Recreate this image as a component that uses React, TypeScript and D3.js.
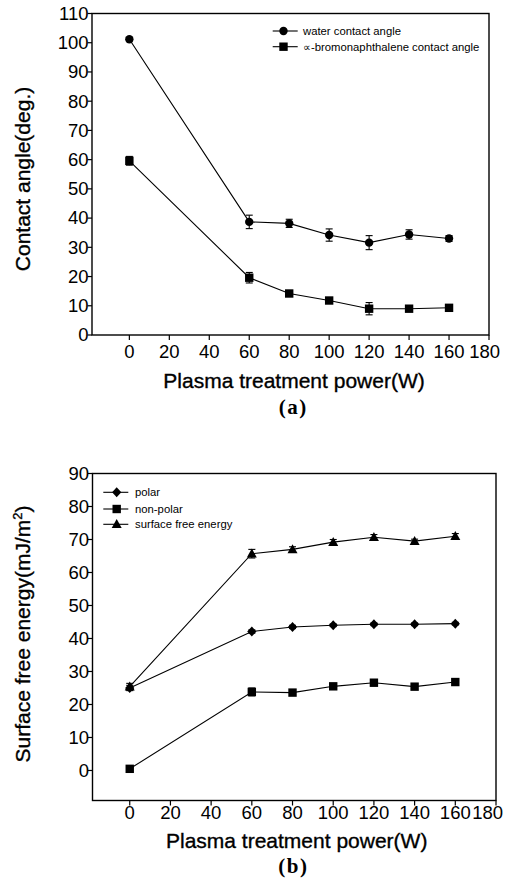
import React from "react";
import * as d3 from "d3";

// Plasma treatment power (W)
const powers = [0, 60, 80, 100, 120, 140, 160];

// Panel (a): contact angles (deg.) with error bars
const waterAngle = [101.2, 38.7, 38.2, 34.2, 31.6, 34.4, 33.0];
const waterErr = [0.6, 2.3, 1.4, 2.1, 2.4, 1.6, 1.0];
const bromoAngle = [59.6, 19.6, 14.2, 11.8, 9.0, 9.0, 9.3];
const bromoErr = [1.5, 1.8, 0.8, 1.0, 2.1, 0.8, 0.8];

// Panel (b): surface free energy components (mJ/m²)
const polarEnergy = [25.0, 42.1, 43.5, 44.0, 44.3, 44.3, 44.5];
const polarErr = [0.8, 0.5, 0.5, 0.4, 0.4, 0.4, 0.4];
const nonPolarEnergy = [0.5, 23.8, 23.6, 25.5, 26.6, 25.4, 26.8];
const nonPolarErr = [0.5, 1.2, 0.8, 0.8, 0.9, 0.8, 0.9];
const totalEnergy = [25.4, 65.7, 67.0, 69.2, 70.7, 69.5, 71.0];
const totalErr = [1.0, 1.3, 0.8, 0.8, 0.8, 0.6, 0.8];

const xTicks = [0, 20, 40, 60, 80, 100, 120, 140, 160, 180];
const yTicksA = [0, 10, 20, 30, 40, 50, 60, 70, 80, 90, 100, 110];
const yTicksB = [0, 10, 20, 30, 40, 50, 60, 70, 80, 90];

const legendA = ["water contact angle", "\u221D-bromonaphthalene contact angle"];
const legendB = ["polar", "non-polar", "surface free energy"];

const SANS = "'Liberation Sans', Arial, Helvetica, sans-serif";
const SERIF = "'Liberation Serif', 'Times New Roman', serif";
const W = 507;
const H = 892;

type Shape = "circle" | "square" | "diamond" | "triangle";

function Marker({ shape, x, y }: { shape: Shape; x: number; y: number }) {
  if (shape === "circle") return <circle cx={x} cy={y} r={4.2} fill="#000" />;
  if (shape === "square")
    return <rect x={x - 4.2} y={y - 4.2} width={8.4} height={8.4} fill="#000" />;
  if (shape === "diamond")
    return (
      <path
        d={`M${x},${y - 5}L${x + 4.6},${y}L${x},${y + 5}L${x - 4.6},${y}Z`}
        fill="#000"
      />
    );
  return (
    <path d={`M${x},${y - 5.2}L${x + 5},${y + 3.8}L${x - 5},${y + 3.8}Z`} fill="#000" />
  );
}

interface Series {
  values: number[];
  errors: number[];
  shape: Shape;
}

interface PanelProps {
  left: number;
  right: number;
  top: number;
  bottom: number;
  xDomain: [number, number];
  yDomain: [number, number];
  yTicks: number[];
  series: Series[];
  tickBaseline: number;
  lastLabelEnd: number;
}

function Panel(p: PanelProps) {
  const x = d3.scaleLinear().domain(p.xDomain).range([p.left, p.right]);
  const y = d3.scaleLinear().domain(p.yDomain).range([p.bottom, p.top]);
  const line = d3
    .line<number>()
    .x((_, i) => x(powers[i]))
    .y((v) => y(v));

  return (
    <g>
      {/* frame */}
      <rect
        x={p.left}
        y={p.top}
        width={p.right - p.left}
        height={p.bottom - p.top}
        fill="none"
        stroke="#000"
        strokeWidth={1.4}
      />
      {/* y axis ticks and labels */}
      {p.yTicks.map((t) => (
        <g key={`y${t}`}>
          <line x1={p.left - 4.5} x2={p.left} y1={y(t)} y2={y(t)} stroke="#000" strokeWidth={1.2} />
          <text
            x={p.left - 3.5}
            y={y(t) + 6.4}
            textAnchor="end"
            fontFamily={SANS}
            fontSize={18.5}
            fill="#000"
          >
            {t}
          </text>
        </g>
      ))}
      {/* x axis ticks and labels */}
      {xTicks.map((t, i) => {
        const last = i === xTicks.length - 1;
        return (
          <g key={`x${t}`}>
            <line x1={x(t)} x2={x(t)} y1={p.bottom} y2={p.bottom + 5} stroke="#000" strokeWidth={1.2} />
            <text
              x={last ? p.lastLabelEnd : x(t)}
              y={p.tickBaseline}
              textAnchor={last ? "end" : "middle"}
              fontFamily={SANS}
              fontSize={18.5}
              fill="#000"
            >
              {t}
            </text>
          </g>
        );
      })}
      {/* series */}
      {p.series.map((s, si) => (
        <g key={`s${si}`}>
          <path d={line(s.values) || ""} fill="none" stroke="#000" strokeWidth={1.1} />
          {s.values.map((v, i) => {
            const cx = x(powers[i]);
            const e = s.errors[i];
            return (
              <g key={i}>
                <line x1={cx} x2={cx} y1={y(v - e)} y2={y(v + e)} stroke="#000" strokeWidth={1.1} />
                <line x1={cx - 3.5} x2={cx + 3.5} y1={y(v - e)} y2={y(v - e)} stroke="#000" strokeWidth={1.1} />
                <line x1={cx - 3.5} x2={cx + 3.5} y1={y(v + e)} y2={y(v + e)} stroke="#000" strokeWidth={1.1} />
                <Marker shape={s.shape} x={cx} y={y(v)} />
              </g>
            );
          })}
        </g>
      ))}
    </g>
  );
}

function LegendRow({
  shape,
  label,
  x0,
  x1,
  mx,
  tx,
  y,
}: {
  shape: Shape;
  label: string;
  x0: number;
  x1: number;
  mx: number;
  tx: number;
  y: number;
}) {
  return (
    <g>
      <line x1={x0} x2={x1} y1={y} y2={y} stroke="#000" strokeWidth={1.1} />
      <Marker shape={shape} x={mx} y={y} />
      <text x={tx} y={y + 4.1} fontFamily={SANS} fontSize={11.3} fill="#000">
        {label}
      </text>
    </g>
  );
}

export default function App() {
  const titleStyle = { stroke: "#000", strokeWidth: 0.35 } as const;
  return (
    <div style={{ position: "absolute", left: 0, top: 0, width: W, height: H, background: "#fff" }}>
      <svg width={W} height={H} viewBox={`0 0 ${W} ${H}`}>
        <rect width={W} height={H} fill="#fff" />

        {/* Panel (a) */}
        <Panel
          left={92}
          right={489}
          top={13.5}
          bottom={335}
          xDomain={[-18.7, 180]}
          yDomain={[0, 110]}
          yTicks={yTicksA}
          tickBaseline={358}
          lastLabelEnd={500}
          series={[
            { values: waterAngle, errors: waterErr, shape: "circle" },
            { values: bromoAngle, errors: bromoErr, shape: "square" },
          ]}
        />
        <LegendRow shape="circle" label={legendA[0]} x0={272.7} x1={297.7} mx={283.5} tx={303} y={31} />
        <LegendRow shape="square" label={legendA[1]} x0={272.7} x1={297.7} mx={283.5} tx={303} y={46.7} />
        <text
          transform="translate(30,179) rotate(-90)"
          textAnchor="middle"
          fontFamily={SANS}
          fontSize={21}
          fill="#000"
          {...titleStyle}
        >
          Contact angle(deg.)
        </text>
        <text x={294} y={388.3} textAnchor="middle" fontFamily={SANS} fontSize={21} fill="#000" {...titleStyle}>
          Plasma treatment power(W)
        </text>
        <text
          x={293.3}
          y={413.5}
          textAnchor="middle"
          fontFamily={SERIF}
          fontSize={21}
          fontWeight="bold"
          letterSpacing={1.5}
          fill="#000"
        >
          (a)
        </text>

        {/* Panel (b) */}
        <Panel
          left={92.5}
          right={496}
          top={473.5}
          bottom={800.5}
          xDomain={[-18.3, 180]}
          yDomain={[-9.1, 90]}
          yTicks={yTicksB}
          tickBaseline={819}
          lastLabelEnd={503}
          series={[
            { values: totalEnergy, errors: totalErr, shape: "triangle" },
            { values: polarEnergy, errors: polarErr, shape: "diamond" },
            { values: nonPolarEnergy, errors: nonPolarErr, shape: "square" },
          ]}
        />
        <LegendRow shape="diamond" label={legendB[0]} x0={103.3} x1={128.3} mx={116.7} tx={135} y={492.3} />
        <LegendRow shape="square" label={legendB[1]} x0={103.3} x1={128.3} mx={116.7} tx={135} y={509} />
        <LegendRow shape="triangle" label={legendB[2]} x0={103.3} x1={128.3} mx={116.7} tx={135} y={524.3} />
        <text
          transform="translate(29.5,634) rotate(-90)"
          textAnchor="middle"
          fontFamily={SANS}
          fontSize={21}
          fill="#000"
          {...titleStyle}
        >
          Surface free energy(mJ/m
          <tspan fontSize={13} dy={-8}>
            2
          </tspan>
          <tspan dy={8}>)</tspan>
        </text>
        <text x={296.7} y={847.7} textAnchor="middle" fontFamily={SANS} fontSize={21} fill="#000" {...titleStyle}>
          Plasma treatment power(W)
        </text>
        <text
          x={293.3}
          y={873}
          textAnchor="middle"
          fontFamily={SERIF}
          fontSize={21}
          fontWeight="bold"
          letterSpacing={1.5}
          fill="#000"
        >
          (b)
        </text>
      </svg>
    </div>
  );
}
